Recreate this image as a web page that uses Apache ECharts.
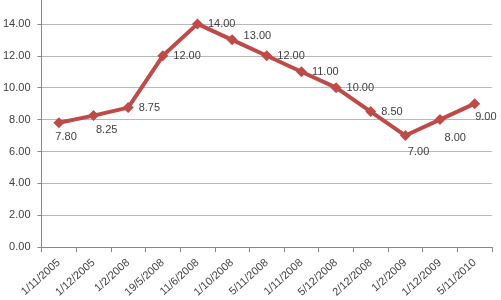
<!DOCTYPE html>
<html>
<head>
<meta charset="utf-8">
<script src="https://cdn.jsdelivr.net/npm/echarts@6/dist/echarts.min.js"></script>
<style>html,body{margin:0;padding:0;background:#fff;overflow:hidden}#c{width:501px;height:316px;margin-top:-16px}</style>
</head>
<body>
<div id="c"></div>
<script>
var categories = ["1/11/2005","1/12/2005","1/2/2008","19/5/2008","11/6/2008","1/10/2008","5/11/2008","1/11/2008","5/12/2008","2/12/2008","1/2/2009","1/12/2009","5/11/2010"];
var values = [7.80, 8.25, 8.75, 12.00, 14.00, 13.00, 12.00, 11.00, 10.00, 8.50, 7.00, 8.00, 9.00];
var yTicks = {min: 0, max: 16, interval: 2};

// label placement tweaks (pixel offsets relative to 'right' position)
var labelShift = {0: [-14, 14], 1: [-8, 14], 5: [1, -4], 10: [-8, 16], 11: [-6, 18], 12: [-10, 13]};

var seriesData = values.map(function (v, i) {
  var item = {value: v};
  if (labelShift[i]) item.label = {offset: labelShift[i]};
  return item;
});

var chart = echarts.init(document.getElementById('c'), null, {renderer: 'canvas'});
chart.setOption({
  animation: false,
  backgroundColor: '#ffffff',
  grid: {left: 41, right: 9, top: 8, bottom: 52, containLabel: false},
  xAxis: {
    type: 'category',
    data: categories,
    boundaryGap: true,
    axisLine: {lineStyle: {color: '#888888', width: 1}},
    axisTick: {show: true, length: 5, alignWithLabel: false, lineStyle: {color: '#888888'}},
    axisLabel: {rotate: 42, margin: 14, fontSize: 11, color: '#404040', fontFamily: 'Liberation Sans, Arial, sans-serif', interval: 0},
    splitLine: {show: false}
  },
  yAxis: {
    type: 'value',
    min: yTicks.min, max: yTicks.max, interval: yTicks.interval,
    axisLine: {show: true, lineStyle: {color: '#888888', width: 1}},
    axisTick: {show: true, length: 4, lineStyle: {color: '#888888'}},
    axisLabel: {margin: 11, fontSize: 11, color: '#404040', fontFamily: 'Liberation Sans, Arial, sans-serif',
      formatter: function (v) { return v.toFixed(2); }},
    splitLine: {show: true, lineStyle: {color: '#b8b8b8', width: 1}}
  },
  series: [{
    type: 'line',
    data: seriesData,
    symbol: 'diamond',
    symbolSize: 11,
    lineStyle: {color: '#be4b48', width: 4},
    itemStyle: {color: '#be4b48'},
    label: {show: true, position: 'right', distance: 5, fontSize: 11, color: '#404040',
      fontFamily: 'Liberation Sans, Arial, sans-serif',
      formatter: function (p) { return p.value.toFixed(2); }}
  }]
});
</script>
</body>
</html>
